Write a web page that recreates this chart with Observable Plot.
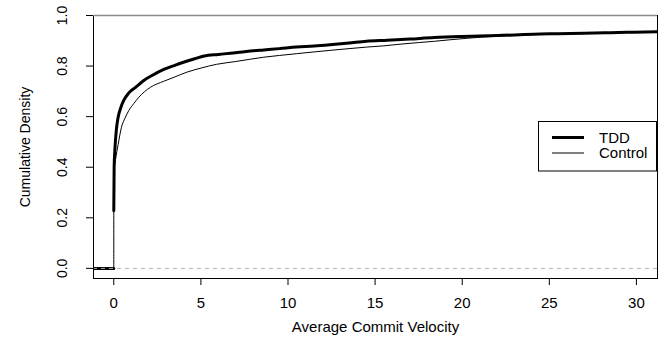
<!DOCTYPE html>
<html>
<head>
<meta charset="utf-8">
<script src="https://cdn.jsdelivr.net/npm/d3@7"></script>
<script src="https://cdn.jsdelivr.net/npm/@observablehq/plot@0.6"></script>
<style>
  html, body { margin: 0; padding: 0; background: #fff; }
  #wrap { position: relative; width: 658px; height: 345px; font-family: "Liberation Sans", Arial, sans-serif; }
  #legend { position: absolute; left: 0; top: 0; }
</style>
</head>
<body>
<div id="wrap"></div>
<script>
// ---- data ----
const tddX = [-1.165, 0, 0, 0, 0.02, 0.06, 0.15, 0.25, 0.4, 0.57, 0.85, 1.25, 1.7, 2.2, 2.87, 3.5, 4.0, 4.6, 5.2, 6.0, 6.7, 7.6, 8.6, 9.5, 10.5, 11.5, 12.4, 13.5, 14.5, 15.7, 17.0, 18.4, 19.9, 21.0, 22.0, 23.0, 24.1, 25.5, 27.0, 28.5, 29.9, 31.3];
const tddY = [0, 0, NaN, 0.228, 0.40, 0.466, 0.55, 0.598, 0.635, 0.664, 0.693, 0.716, 0.742, 0.763, 0.787, 0.803, 0.815, 0.828, 0.840, 0.846, 0.851, 0.858, 0.864, 0.869, 0.875, 0.879, 0.884, 0.891, 0.898, 0.902, 0.907, 0.913, 0.917, 0.919, 0.921, 0.923, 0.926, 0.928, 0.930, 0.932, 0.934, 0.936];

const controlX = [-1.165, 0, 0, 0.1, 0.25, 0.44, 0.65, 0.86, 1.15, 1.44, 2.1, 2.87, 3.5, 4.2, 5.0, 5.9, 7.0, 8.6, 9.5, 10.5, 11.5, 12.4, 13.5, 14.5, 15.5, 16.5, 17.5, 18.4, 19.3, 20.3, 21.2, 22.0, 23.0, 24.1, 25.5, 27.0, 28.5, 29.9, 31.3];
const controlY = [0, 0, 0.38, 0.43, 0.49, 0.558, 0.595, 0.624, 0.652, 0.677, 0.716, 0.740, 0.757, 0.776, 0.792, 0.807, 0.818, 0.835, 0.842, 0.849, 0.856, 0.862, 0.869, 0.875, 0.880, 0.887, 0.893, 0.898, 0.904, 0.910, 0.915, 0.918, 0.921, 0.925, 0.928, 0.930, 0.932, 0.934, 0.936];

const xTicks = [0, 5, 10, 15, 20, 25, 30];
const yTicks = [0, 0.2, 0.4, 0.6, 0.8, 1.0];
const yTickLabels = ["0.0", "0.2", "0.4", "0.6", "0.8", "1.0"];
const refLines = [0, 1];
const seriesNames = ["TDD", "Control"];
const xTitle = "Average Commit Velocity";
const yTitle = "Cumulative Density";

const tdd = tddX.map((x, i) => ({x, y: tddY[i]}));
const control = controlX.map((x, i) => ({x, y: controlY[i]}));

const font = "Liberation Sans, Arial, sans-serif";

const chart = Plot.plot({
  width: 658,
  height: 345,
  marginLeft: 93,
  marginRight: 1,
  marginTop: 15,
  marginBottom: 67,
  style: {fontFamily: font, background: "#fff", color: "#000"},
  x: {domain: [-1.165, 31.21]},
  y: {domain: [-0.04, 1]},
  marks: [
    Plot.line(control, {x: "x", y: "y", stroke: "#000", strokeWidth: 1, curve: "monotone-x", clip: true}),
    Plot.line(tdd, {x: "x", y: "y", stroke: "#000", strokeWidth: 3, curve: "monotone-x", clip: true}),
    Plot.ruleY(refLines, {stroke: "#b0b0b0", strokeWidth: 1, strokeDasharray: "4,4"}),
    Plot.frame({stroke: "#000", strokeWidth: 1}),
    Plot.ruleY(refLines.slice(1), {stroke: "#8a8a8a", strokeWidth: 1.5}),
    Plot.axisX({ticks: xTicks, tickSize: 7, tickPadding: 12, fontSize: 15, label: null, tickFormat: d => String(d)}),
    Plot.axisY({ticks: yTicks, tickSize: 7, tickPadding: 20, fontSize: 14, tickRotate: -90, label: null,
      tickFormat: d => yTickLabels[yTicks.indexOf(d)]}),
    Plot.text([xTitle], {frameAnchor: "bottom", lineAnchor: "middle", textAnchor: "middle", dy: 49, fontSize: 15, text: d => d}),
    Plot.text([yTitle], {frameAnchor: "left", lineAnchor: "middle", textAnchor: "middle", dx: -68, rotate: -90, fontSize: 14, text: d => d})
  ]
});

const wrap = document.getElementById("wrap");
wrap.appendChild(chart);

// legend overlay (inside the plot area, like R's legend())
const ns = "http://www.w3.org/2000/svg";
const lg = document.createElementNS(ns, "svg");
lg.setAttribute("id", "legend");
lg.setAttribute("width", 658);
lg.setAttribute("height", 345);
const box = document.createElementNS(ns, "rect");
box.setAttribute("x", 538.5); box.setAttribute("y", 121.5);
box.setAttribute("width", 118); box.setAttribute("height", 49.5);
box.setAttribute("fill", "#fff"); box.setAttribute("stroke", "#000");
lg.appendChild(box);
const widths = [3, 1];
seriesNames.forEach((name, i) => {
  const cy = 137.5 + i * 15.5;
  const ln = document.createElementNS(ns, "line");
  ln.setAttribute("x1", 552); ln.setAttribute("x2", 584);
  ln.setAttribute("y1", cy); ln.setAttribute("y2", cy);
  ln.setAttribute("stroke", "#000"); ln.setAttribute("stroke-width", widths[i]);
  lg.appendChild(ln);
  const t = document.createElementNS(ns, "text");
  t.setAttribute("x", 599); t.setAttribute("y", cy + 5.3);
  t.setAttribute("font-family", font); t.setAttribute("font-size", 15);
  t.textContent = name;
  lg.appendChild(t);
});
wrap.appendChild(lg);
</script>
</body>
</html>
